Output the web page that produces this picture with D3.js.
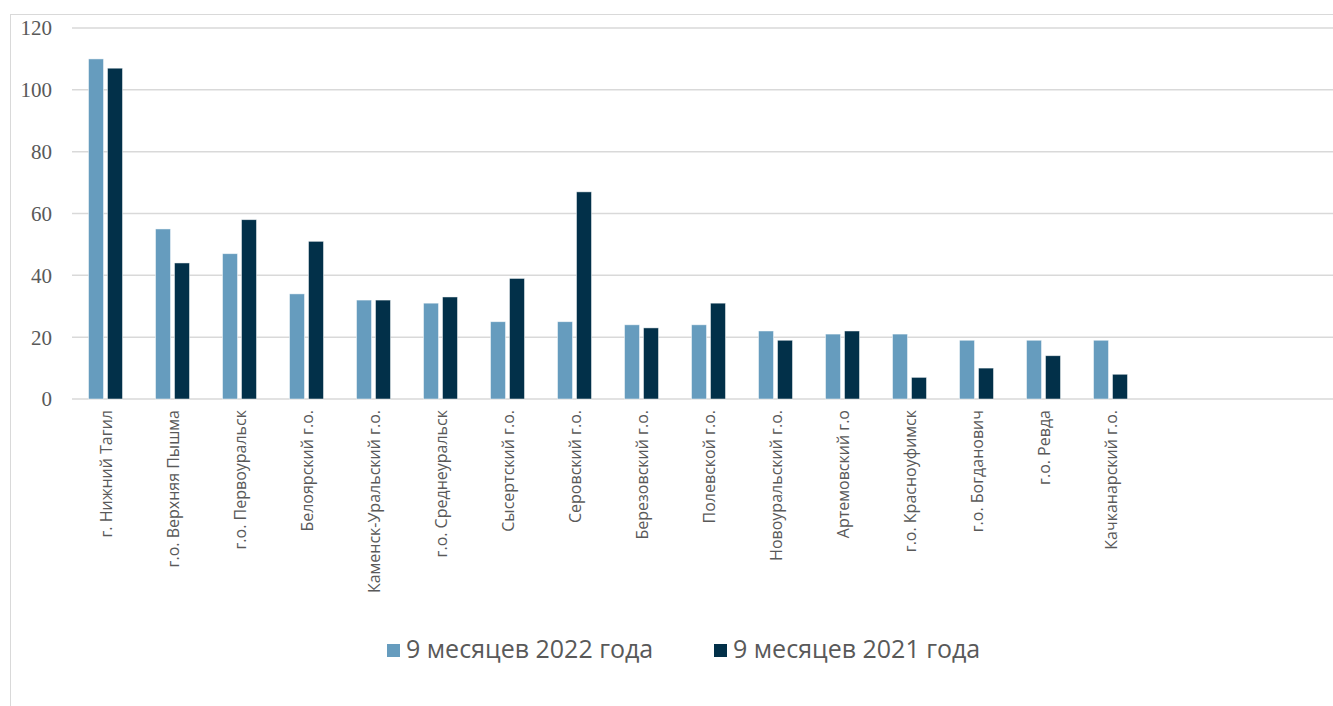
<!DOCTYPE html>
<html>
<head>
<meta charset="utf-8">
<script src="https://cdn.jsdelivr.net/npm/d3@7"></script>
<style>
    body { margin: 0; background: #fff; }
    #chart { width: 1333px; height: 706px; }
    .grid line { stroke: #d9d9d9; stroke-width: 1.5px; }
    .ylab { font-family: "Liberation Serif", serif; font-size: 21px; fill: #595959; }
    .xlab { font-family: "Open Sans", sans-serif; font-size: 16px; fill: #595959; }
    .legend text { font-family: "Open Sans", sans-serif; font-size: 25px; fill: #595959; }
</style>
</head>
<body>
<div id="chart"></div>
<script>
    // data
    var categories = ["г. Нижний Тагил", "г.о. Верхняя Пышма", "г.о. Первоуральск", "Белоярский г.о.",
        "Каменск-Уральский г.о.", "г.о. Среднеуральск", "Сысертский г.о.", "Серовский г.о.",
        "Березовский г.о.", "Полевской г.о.", "Новоуральский г.о.", "Артемовский г.о",
        "г.о. Красноуфимск", "г.о. Богданович", "г.о. Ревда", "Качканарский г.о."];
    var values2022 = [110, 55, 47, 34, 32, 31, 25, 25, 24, 24, 22, 21, 21, 19, 19, 19];
    var values2021 = [107, 44, 58, 51, 32, 33, 39, 67, 23, 31, 19, 22, 7, 10, 14, 8];
    var seriesNames = ["9 месяцев 2022 года", "9 месяцев 2021 года"];
    var seriesColors = ["#669cbe", "#023049"];
    var yTicks = [0, 20, 40, 60, 80, 100, 120];

    var W = 1333, H = 706;
    var plotLeft = 72, plotRight = 1333, plotTop = 28, plotBottom = 399;
    var step = 67;

    var svg = d3.select("#chart").append("svg")
        .attr("width", W)
        .attr("height", H);

    // outer chart frame (runs off the right and bottom of the picture)
    svg.append("rect")
        .attr("x", 10.5).attr("y", 14.5)
        .attr("width", W).attr("height", H)
        .attr("fill", "none")
        .attr("stroke", "#d9d9d9");

    var x = d3.scaleBand()
        .domain(categories)
        .range([plotLeft, plotLeft + step * categories.length]);

    var inner = d3.scaleBand()
        .domain([0, 1])
        .range([0, x.bandwidth()])
        .paddingInner(0.21)
        .paddingOuter(0.87);

    var y = d3.scaleLinear()
        .domain([0, 120])
        .range([plotBottom, plotTop]);

    // gridlines
    svg.append("g").attr("class", "grid")
        .selectAll("line")
        .data(yTicks)
        .enter().append("line")
        .attr("x1", plotLeft).attr("x2", plotRight)
        .attr("y1", function (d) { return y(d); })
        .attr("y2", function (d) { return y(d); });

    // y labels
    svg.append("g")
        .selectAll("text")
        .data(yTicks)
        .enter().append("text")
        .attr("class", "ylab")
        .attr("x", 52)
        .attr("y", function (d) { return y(d); })
        .attr("dy", "0.35em")
        .attr("text-anchor", "end")
        .text(function (d) { return d; });

    // bars
    var rows = categories.map(function (c, i) {
        return { cat: c, vals: [values2022[i], values2021[i]] };
    });

    var groups = svg.append("g")
        .selectAll("g")
        .data(rows)
        .enter().append("g")
        .attr("transform", function (d) { return "translate(" + x(d.cat) + ",0)"; });

    groups.selectAll("rect")
        .data(function (d) { return d.vals; })
        .enter().append("rect")
        .attr("x", function (d, i) { return inner(i); })
        .attr("width", inner.bandwidth())
        .attr("y", function (d) { return y(d); })
        .attr("height", function (d) { return plotBottom - y(d); })
        .attr("fill", function (d, i) { return seriesColors[i]; })
        .attr("stroke", "#ffffff")
        .attr("stroke-opacity", 0.6)
        .attr("stroke-width", 0.8);

    // category labels, rotated
    svg.append("g")
        .selectAll("text")
        .data(categories)
        .enter().append("text")
        .attr("class", "xlab")
        .attr("transform", function (d) {
            return "translate(" + (x(d) + x.bandwidth() / 2 + 1) + ",410) rotate(-90)";
        })
        .attr("dy", "0.35em")
        .attr("text-anchor", "end")
        .text(function (d) { return d; });

    // legend
    var legend = svg.append("g").attr("class", "legend");
    var legendX = [387, 714];
    seriesNames.forEach(function (name, i) {
        legend.append("rect")
            .attr("x", legendX[i]).attr("y", 644)
            .attr("width", 13).attr("height", 13)
            .attr("fill", seriesColors[i]);
        legend.append("text")
            .attr("x", legendX[i] + 19).attr("y", 658)
            .text(name);
    });
</script>
</body>
</html>
